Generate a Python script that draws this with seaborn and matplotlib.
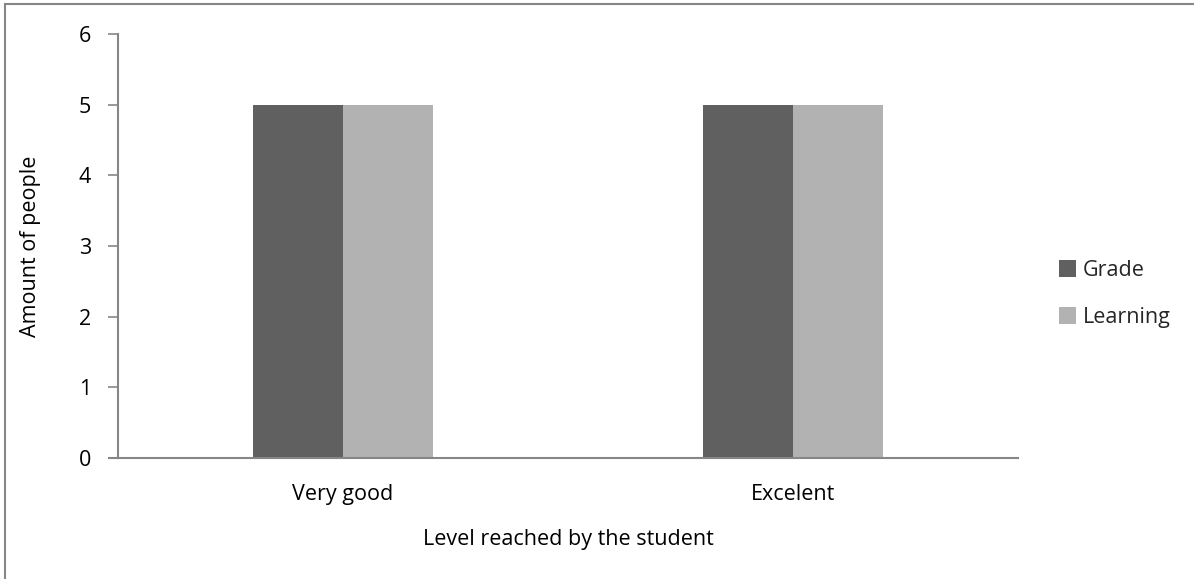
import matplotlib
matplotlib.use("Agg")
import matplotlib.pyplot as plt
import matplotlib.patches as mpatches
import seaborn as sns
import pandas as pd

levels = ["Very good", "Excelent"]
grade = [5, 5]
learning = [5, 5]
series_names = ["Grade", "Learning"]
colors = ["#606060", "#b2b2b2"]
y_ticks = [0, 1, 2, 3, 4, 5, 6]

df = pd.DataFrame({
    "level": levels * 2,
    "count": grade + learning,
    "series": [series_names[0]] * len(levels) + [series_names[1]] * len(levels),
})

sns.set_theme(style="white")
plt.rcParams["font.family"] = ["Open Sans", "DejaVu Sans"]

FS = 15.5

fig = plt.figure(figsize=(11.94, 5.79), dpi=100)
ax = fig.add_axes([118 / 1194, 1 - 458 / 579, 900 / 1194, 424 / 579])

sns.barplot(data=df, x="level", y="count", hue="series", order=levels,
            hue_order=series_names, palette=colors, width=0.4,
            saturation=1, ax=ax, linewidth=0, legend=False)

ax.set_ylim(0, 6)
ax.set_xlim(-0.5, len(levels) - 0.5)
ax.set_yticks(y_ticks)
ax.set_yticklabels([str(v) for v in y_ticks])

spine_color = "#868686"
for side in ["top", "right"]:
    ax.spines[side].set_visible(False)
for side in ["left", "bottom"]:
    ax.spines[side].set_color(spine_color)
    ax.spines[side].set_linewidth(1.5)

ax.tick_params(axis="y", which="major", left=True, length=7.5, width=1.2,
               color=spine_color, pad=12, labelsize=FS, labelcolor="black")
ax.tick_params(axis="x", which="major", bottom=False, length=0, pad=19,
               labelsize=FS, labelcolor="black")

ax.set_xlabel("Level reached by the student", fontsize=FS, labelpad=17, color="black")
ax.set_ylabel("Amount of people", fontsize=FS, color="black")
ax.yaxis.set_label_coords(-77 / 900, 0.5)

# extend baseline slightly left of the axis, like the zero tick
ax.plot([-0.5 - 10 / 450, -0.5], [0, 0], color=spine_color, lw=1.5,
        clip_on=False, solid_capstyle="butt")

handles = [mpatches.Patch(facecolor=c, edgecolor="none", label=n)
           for c, n in zip(colors, series_names)]
fig.legend(handles=handles, loc="center left",
           bbox_to_anchor=(1042 / 1194, 1 - 294 / 579), frameon=False,
           fontsize=FS, handlelength=0.8, handleheight=0.8,
           handletextpad=0.3, labelspacing=1.2, borderpad=0.3)

# outer chart border
fig.add_artist(mpatches.Rectangle((5 / 1194, -0.05), 1.1, 1 - 4 / 579 + 0.05,
                                  transform=fig.transFigure, fill=False,
                                  edgecolor="#868686", linewidth=1.5))

fig.savefig("out.png", dpi=100, facecolor="white")
